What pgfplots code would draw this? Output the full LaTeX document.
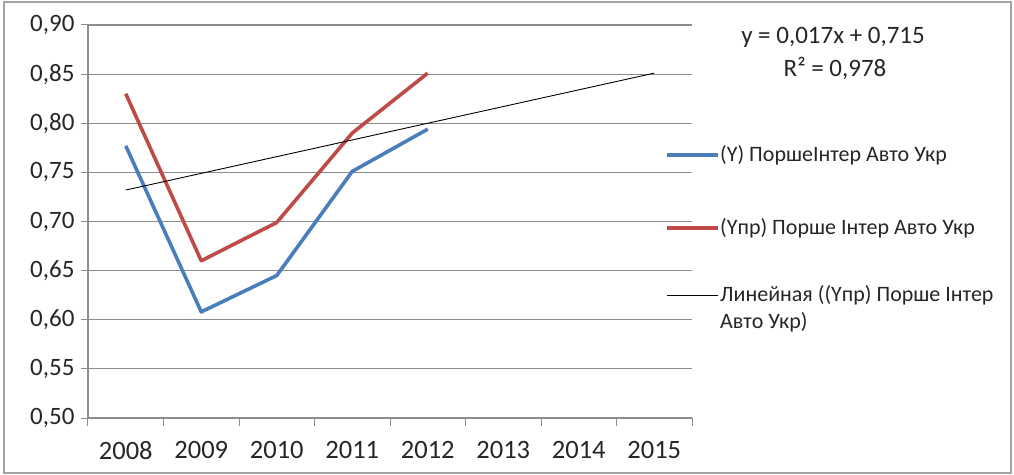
\documentclass[border=0pt]{standalone}
\usepackage{pgfplots}
\pgfplotsset{compat=1.18}
\usepackage{fontspec}
\setmainfont{Carlito}
\definecolor{serA}{HTML}{4A7EBB}
\definecolor{serB}{HTML}{BE4B48}
\definecolor{gridc}{HTML}{8C8C8C}
\definecolor{txt}{HTML}{262626}
\begin{document}
\begin{tikzpicture}[x=1pt,y=1pt]
\useasboundingbox (-88,-56) rectangle (926,418);
\draw[gridc!80, line width=1.5pt] (-84,-55) rectangle (923,416);
\begin{axis}[
    at={(0,0)}, anchor=south west,
    scale only axis, width=604pt, height=393pt,
    xmin=0.5, xmax=8.5, ymin=0.5, ymax=0.9,
    axis x line*=bottom, axis y line*=left,
    axis line style={gridc, line width=1.2pt, -},
    xtick={1,2,3,4,5,6,7,8},
    xticklabels={2008,2009,2010,2011,2012,2013,2014,2015},
    major x tick style={draw=none},
    minor xtick={0.5,1.5,2.5,3.5,4.5,5.5,6.5,7.5,8.5},
    ytick={0.5,0.55,0.6,0.65,0.7,0.75,0.8,0.85,0.9},
    ymajorgrids, grid style={gridc, line width=1.2pt},
    tick align=outside, major tick length=7pt, minor tick length=8pt,
    tick style={gridc, line width=1pt},
    /pgf/number format/fixed,
    /pgf/number format/fixed zerofill,
    /pgf/number format/precision=2,
    /pgf/number format/use comma,
    /pgf/number format/assume math mode=true,
    xticklabel style={font=\fontsize{26.5}{26.5}\selectfont, text=txt, yshift=-13pt},
    yticklabel style={font=\fontsize{25}{25}\selectfont, text=txt, xshift=-3pt},
    clip=false,
]
\addplot[serA, line width=3.6pt, line join=round] coordinates {
    (1,0.777) (2,0.608) (3,0.645) (4,0.751) (5,0.794)
};
\addplot[serB, line width=3.6pt, line join=round] coordinates {
    (1,0.830) (2,0.660) (3,0.699) (4,0.790) (5,0.851)
};
% linear trend: y = 0.017x + 0.715
\addplot[black, line width=0.9pt] coordinates {
    (1,0.732) (8,0.851)
};
\end{axis}
% legend
\draw[serA, line width=3.6pt] (579,263) -- (630,263);
\draw[serB, line width=3.6pt] (579,190) -- (630,190);
\draw[black, line width=0.9pt] (579,123) -- (630,123);
\begin{scope}[every node/.style={anchor=base west, inner sep=0pt, text=txt, font=\fontsize{22}{22}\selectfont}]
\node at (632,256) {(Y) ПоршеІнтер Авто Укр};
\node at (632,183) {(Yпр) Порше Інтер Авто Укр};
\node at (632,116) {Линейная ((Yпр) Порше Інтер};
\node at (632,89) {Авто Укр)};
\end{scope}
\node[text=txt, font=\fontsize{25}{25}\selectfont] at (745,381) {y = 0,017x + 0,715};
\node[text=txt, font=\fontsize{25}{25}\selectfont] at (747,350) {R² = 0,978};
\end{tikzpicture}
\end{document}
